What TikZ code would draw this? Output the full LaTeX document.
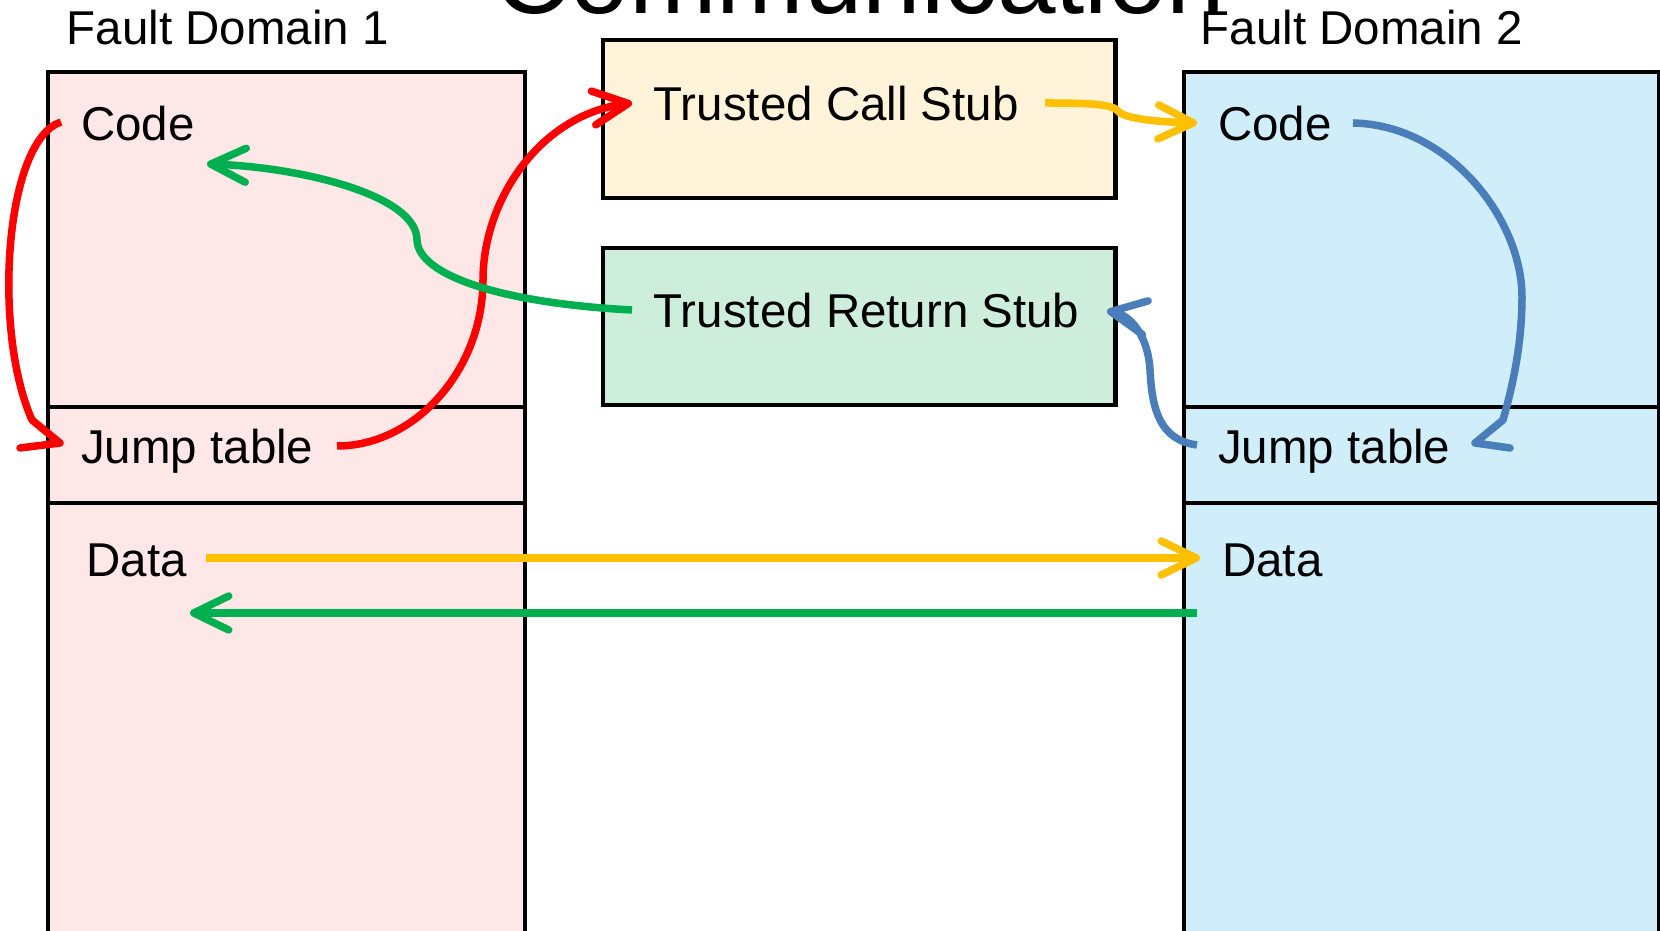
\documentclass[tikz,border=0pt]{standalone}
\usepackage{fontspec}
\setmainfont{Liberation Sans}
\usetikzlibrary{arrows.meta}
\definecolor{pinkfill}{HTML}{FDE7E7}
\definecolor{bluefill}{HTML}{CFEEF9}
\definecolor{creamfill}{HTML}{FFF3D9}
\definecolor{mintfill}{HTML}{CCEEDA}
\definecolor{cred}{HTML}{FF0000}
\definecolor{cgreen}{HTML}{00B050}
\definecolor{cyellow}{HTML}{FFC000}
\definecolor{cblue}{HTML}{4A7EBB}
\begin{document}
\begin{tikzpicture}[x=0.01cm,y=-0.01cm,
  region/.style={draw=black, line width=0.042cm, anchor=north west, inner sep=0pt, minimum width=#1},
  lbl/.style={anchor=base west, inner sep=0pt, font=\fontsize{13.5pt}{16pt}\selectfont},
  conn/.style={line width=0.075cm},
  tipped/.style={-{Straight Barb[length=3.5mm,width=3.4mm,round]}},
  headstyle/.style={line cap=round, line join=round}
]
\useasboundingbox (0,0) rectangle (1660,931);
\fill[white] (0,0) rectangle (1660,931);

% title (cut off at the top)
\node[anchor=base, inner sep=0pt, font=\fontsize{29.9pt}{32pt}\selectfont] (title) at (860,14) {Communication};

% fault domain 1
\node[region=4.775cm, fill=pinkfill, minimum height=3.35cm] (fd1code) at (45.5,70) {};
\node[region=4.775cm, fill=pinkfill, minimum height=0.96cm] (fd1jt) at (45.5,405) {};
\node[region=4.775cm, fill=pinkfill, minimum height=4.5cm] (fd1data) at (45.5,501) {};
% fault domain 2
\node[region=4.75cm, fill=bluefill, minimum height=3.35cm] (fd2code) at (1182,70) {};
\node[region=4.75cm, fill=bluefill, minimum height=0.96cm] (fd2jt) at (1182,405) {};
\node[region=4.75cm, fill=bluefill, minimum height=4.5cm] (fd2data) at (1182,501) {};
% stubs
\node[region=5.12cm, fill=creamfill, minimum height=1.58cm] (callbox) at (601,38) {};
\node[region=5.12cm, fill=mintfill, minimum height=1.57cm] (retbox) at (601,246) {};

% labels
\node[lbl] (fd1) at (66,45) {Fault Domain 1};
\node[lbl] (fd2) at (1200,45) {Fault Domain 2};
\node[lbl] (code1) at (80.5,140.5) {Code};
\node[lbl] (jt1) at (80.5,463.5) {Jump table};
\node[lbl] (data1) at (86,577) {Data};
\node[lbl] (call) at (653,120.5) {Trusted Call Stub};
\node[lbl] (ret) at (653,328) {Trusted Return Stub};
\node[lbl] (code2) at (1217.5,140.5) {Code};
\node[lbl] (jt2) at (1217.5,463.5) {Jump table};
\node[lbl] (data2) at (1221.5,577) {Data};

% connector end points
\coordinate (r1s) at (61,122);
\coordinate (r1k) at (32,420);
\coordinate (r1t) at (60,443);
\coordinate (r1a) at (20,448);
\coordinate (r2s) at (337,446);
\coordinate (r2t) at (632,103);
\coordinate (y1s) at (1045,103);
\coordinate (y1t) at (1197,123);
\coordinate (g1s) at (632,310);
\coordinate (g1t) at (207,164);
\coordinate (b1s) at (1353,123);
\coordinate (b1k) at (1503,420);
\coordinate (b1t) at (1475,443);
\coordinate (b1a) at (1510,448);
\coordinate (b2s) at (1197,445);
\coordinate (b2t) at (1107,311);
\coordinate (y2s) at (206,558);
\coordinate (y2t) at (1200,558);
\coordinate (g2s) at (1197,613);
\coordinate (g2t) at (190,613);

% red: code1 -> jump table 1
\draw[conn, cred] (r1s) .. controls (5,140) and (-8,330) .. (r1k);
\draw[conn, cred, headstyle] (r1k) -- (r1t) -- (r1a);
% red: jump table 1 -> trusted call stub
\draw[conn, cred, tipped] (r2s) .. controls (415,446) and (483,370) .. (483,280)
  .. controls (483,200) and (540,115) .. (r2t);
% yellow: call stub -> code2
\draw[conn, cyellow, tipped] (y1s) .. controls (1090,103) and (1112,104) .. (1118,111)
  .. controls (1124,119) and (1160,122) .. (y1t);
% green: return stub -> code1
\draw[conn, cgreen, tipped] (g1s) .. controls (500,303) and (418,275) .. (417,240)
  .. controls (417,195) and (300,167) .. (g1t);
% blue: code2 -> jump table 2
\draw[conn, cblue] (b1s) .. controls (1450,125) and (1522,220) .. (1522,297)
  .. controls (1522,350) and (1510,395) .. (b1k);
\draw[conn, cblue, headstyle] (b1k) -- (b1t) -- (b1a);
% blue: jump table 2 -> return stub
\draw[conn, cblue, tipped] (b2s) .. controls (1160,440) and (1152,410) .. (1150,370)
  .. controls (1148,335) and (1130,315) .. (b2t);
% data arrows
\draw[conn, cyellow, tipped] (y2s) -- (y2t);
\draw[conn, cgreen, tipped] (g2s) -- (g2t);
\end{tikzpicture}
\end{document}
